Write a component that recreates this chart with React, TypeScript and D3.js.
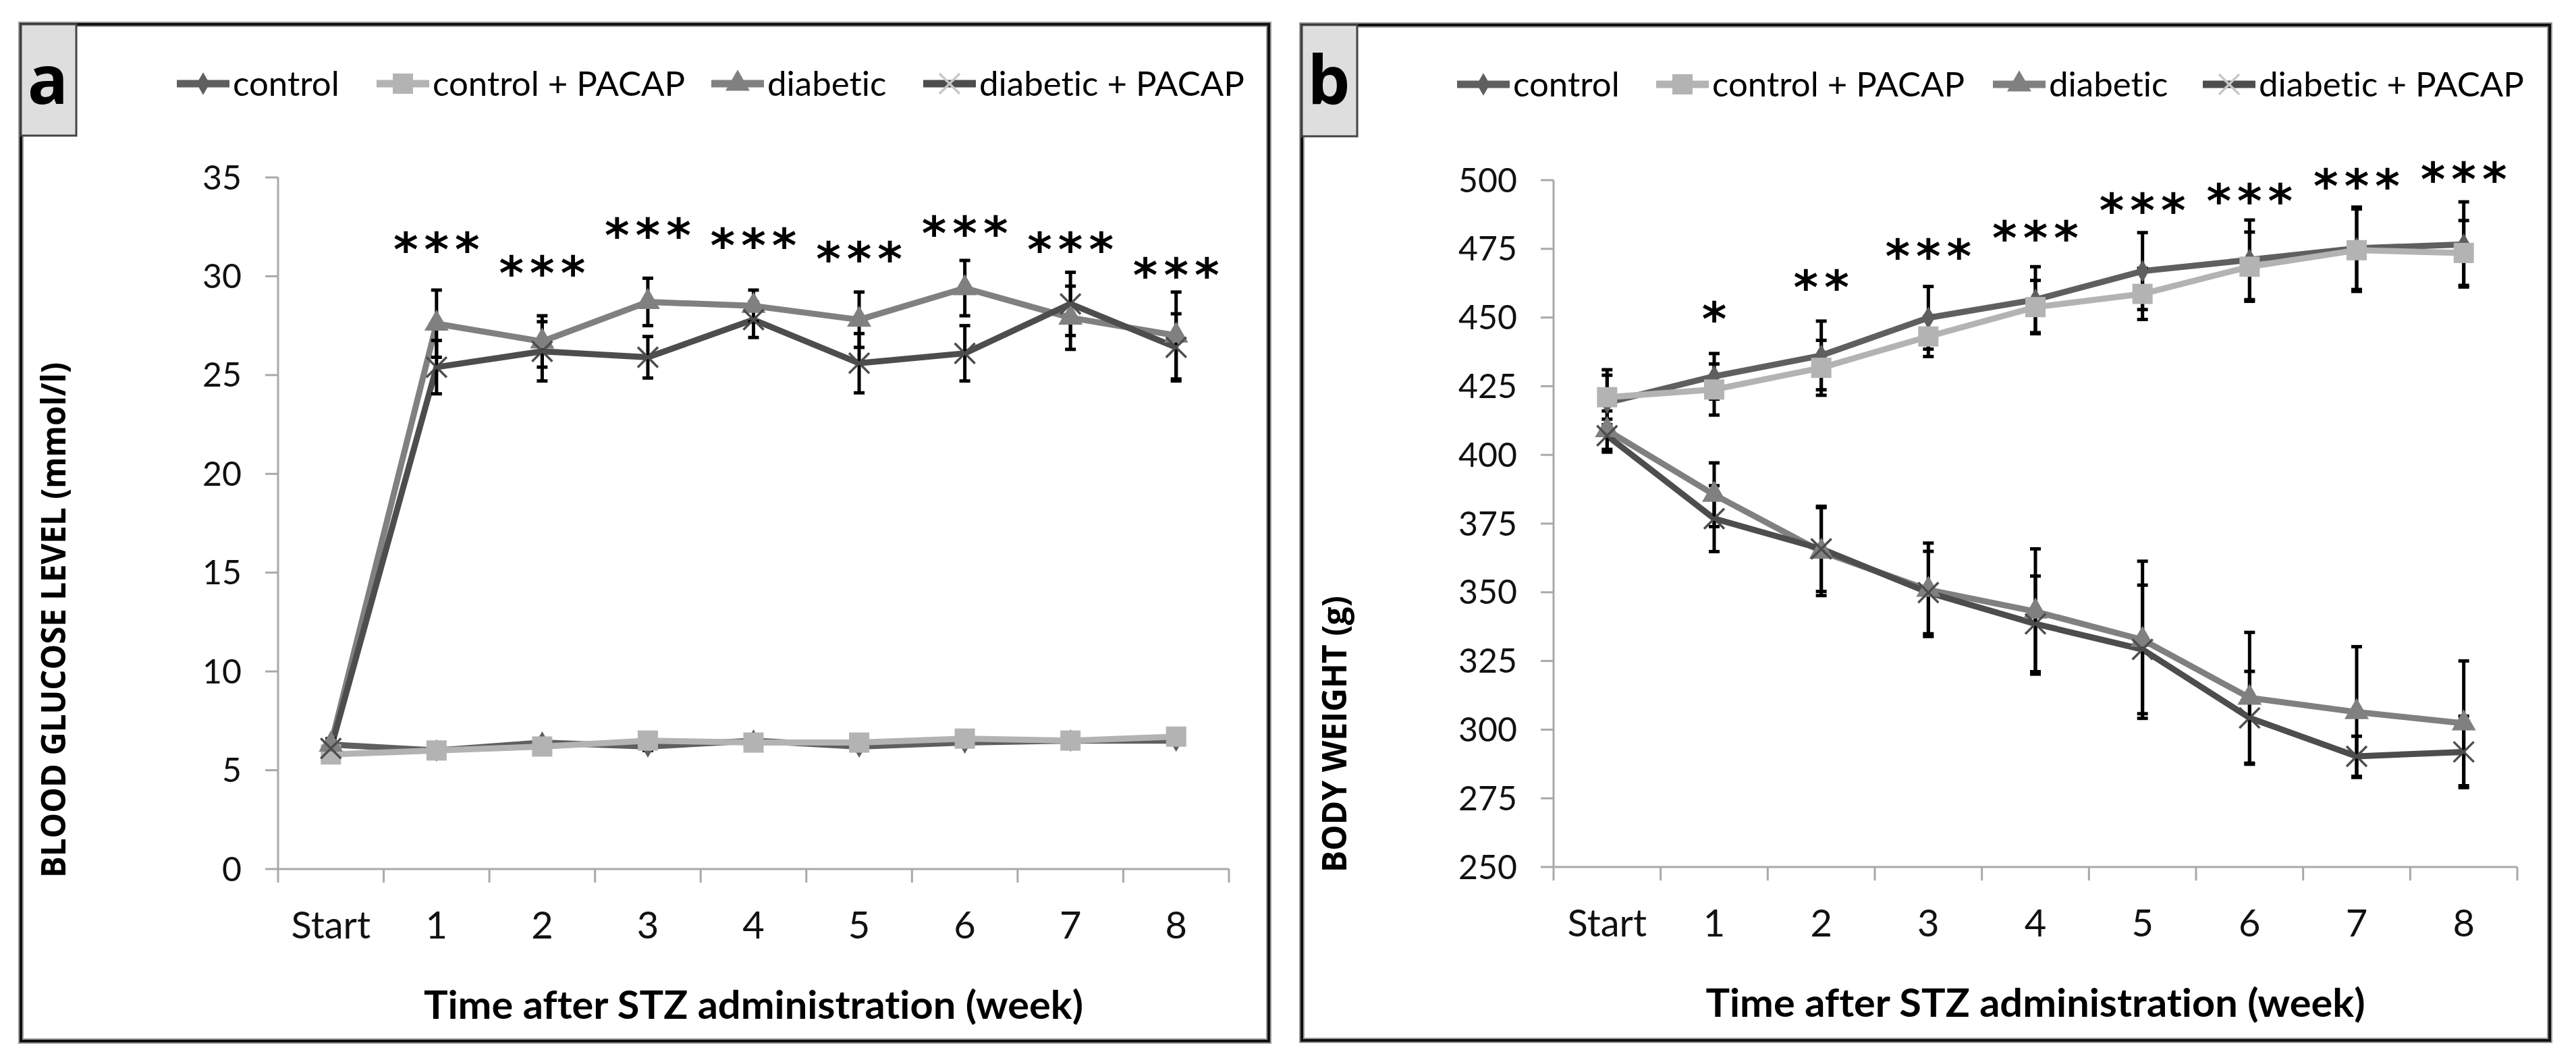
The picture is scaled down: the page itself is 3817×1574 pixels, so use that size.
import * as d3 from 'd3';

const weeks = ['Start', '1', '2', '3', '4', '5', '6', '7', '8'];
const groups = ['control', 'control + PACAP', 'diabetic', 'diabetic + PACAP'];

// a: blood glucose level (mmol/l), means and error bars
const glucoseControl = [6.3, 6.0, 6.4, 6.2, 6.5, 6.2, 6.4, 6.5, 6.5];
const glucoseControlPacap = [5.8, 6.0, 6.2, 6.5, 6.4, 6.4, 6.6, 6.5, 6.7];
const glucoseDiabetic = [6.3, 27.6, 26.7, 28.7, 28.5, 27.8, 29.4, 27.9, 27.0];
const glucoseDiabeticPacap = [6.1, 25.4, 26.2, 25.9, 27.8, 25.6, 26.1, 28.6, 26.4];
const glucoseControlErr = [0.2, 0.2, 0.2, 0.2, 0.2, 0.2, 0.2, 0.2, 0.2];
const glucoseControlPacapErr = [0.2, 0.2, 0.2, 0.2, 0.2, 0.2, 0.2, 0.2, 0.2];
const glucoseDiabeticErr = [0.3, 1.7, 1.3, 1.2, 0.8, 1.4, 1.4, 1.6, 2.2];
const glucoseDiabeticPacapErr = [0.3, 1.35, 1.5, 1.05, 0.9, 1.5, 1.4, 1.6, 1.7];
const glucoseStars = ['', '***', '***', '***', '***', '***', '***', '***', '***'];
const glucoseStarLevel = [0, 31.9, 30.7, 32.6, 32.1, 31.4, 32.7, 31.9, 30.6];
const glucoseTicks = [0, 5, 10, 15, 20, 25, 30, 35];

// b: body weight (g)
const weightControl = [419, 428.6, 436.2, 449.9, 456.5, 466.9, 471.0, 475.2, 476.6];
const weightControlPacap = [421, 423.8, 431.7, 443.1, 453.8, 458.6, 468.5, 474.5, 473.5];
const weightDiabetic = [409, 385.5, 364.8, 350.9, 343.0, 332.7, 311.6, 306.4, 302.3];
const weightDiabeticPacap = [407, 376.8, 365.8, 349.9, 338.5, 329.2, 304.3, 290.3, 291.9];
const weightControlErr = [10, 8.3, 12.5, 11.4, 12, 14, 14.5, 15, 15.5];
const weightControlPacapErr = [10, 9.3, 10, 7.3, 9.7, 9.3, 12.6, 15, 11.8];
const weightDiabeticErr = [7, 11.6, 16, 17, 22.8, 28.6, 23.8, 23.8, 22.7];
const weightDiabeticPacapErr = [6, 12, 15.5, 15, 17.4, 23.4, 16.9, 7.3, 13];
const weightStars = ['', '*', '**', '***', '***', '***', '***', '***', '***'];
const weightStarLevel = [0, 453.4, 464.8, 476.2, 482.8, 492.8, 496.3, 501.7, 504.2];
const weightTicks = [250, 275, 300, 325, 350, 375, 400, 425, 450, 475, 500];

const groupColors = ['#5f5f5f', '#b3b3b3', '#808080', '#4d4d4d'];
const groupMarkers = ['diamond', 'square', 'triangle', 'x'];

const FONT = 'Lato, "Open Sans", sans-serif';

function Marker({ x, y, type, color }: { x: number; y: number; type: string; color: string }) {
  if (type === 'x') {
    const r = 15;
    return (
      <g stroke={color} strokeWidth={3.5}>
        <line x1={x - r} y1={y - r} x2={x + r} y2={y + r} />
        <line x1={x - r} y1={y + r} x2={x + r} y2={y - r} />
      </g>
    );
  }
  const sym = type === 'diamond' ? d3.symbolDiamond : type === 'square' ? d3.symbolSquare : d3.symbolTriangle;
  const size = type === 'diamond' ? 320 : type === 'square' ? 900 : 560;
  return <path d={d3.symbol(sym, size)() || ''} transform={`translate(${x},${y})`} fill={color} />;
}

interface PanelProps {
  label: string;
  frame: { x0: number; y0: number; x1: number; y1: number };
  plot: { left: number; right: number; top: number; bottom: number };
  domain: [number, number];
  ticks: number[];
  values: number[][];
  errors: number[][];
  stars: string[];
  starLevel: number[];
  yTitle: string;
  yTitlePos: [number, number];
  yTitleLen: number;
  legendX: number[];
}

function Panel(p: PanelProps) {
  const x = d3.scaleBand<string>().domain(weeks).range([p.plot.left, p.plot.right]).padding(0);
  const y = d3.scaleLinear().domain(p.domain).range([p.plot.bottom, p.plot.top]);
  const cx = (w: string) => (x(w) as number) + x.bandwidth() / 2;
  const line = d3.line<number>().x((_, i) => cx(weeks[i])).y(d => y(d));
  const boundaries = weeks.map(w => x(w) as number).concat([p.plot.right]);
  const legendY = p.frame.y0 + 88;
  const axisColor = '#a9a9a9';
  const starSpacing = 9;

  return (
    <g>
      {/* frame */}
      <rect x={p.frame.x0} y={p.frame.y0} width={p.frame.x1 - p.frame.x0} height={p.frame.y1 - p.frame.y0}
        fill="#fff" stroke="#9a9a9a" strokeWidth={8} />
      <rect x={p.frame.x0} y={p.frame.y0} width={p.frame.x1 - p.frame.x0} height={p.frame.y1 - p.frame.y0}
        fill="none" stroke="#111" strokeWidth={4} />
      <rect x={p.frame.x0} y={p.frame.y0} width={82} height={165} fill="#dedede" stroke="#444" strokeWidth={3} />
      <text x={p.frame.x0 + 40} y={p.frame.y0 + 118} textAnchor="middle" fontFamily='"Open Sans", sans-serif'
        fontWeight="bold" fontSize={100} fill="#000">{p.label}</text>

      {/* legend */}
      {groups.map((g, i) => (
        <g key={g}>
          <line x1={p.legendX[i]} x2={p.legendX[i] + 78} y1={legendY} y2={legendY}
            stroke={groupColors[i]} strokeWidth={11} />
          <Marker x={p.legendX[i] + 39} y={legendY} type={groupMarkers[i]}
            color={groupMarkers[i] === 'x' ? '#c8c8c8' : groupColors[i]} />
          <text x={p.legendX[i] + 83} y={legendY + 18} fontFamily={FONT} fontSize={51} fill="#000">{g}</text>
        </g>
      ))}

      {/* axes */}
      <line x1={p.plot.left} x2={p.plot.left} y1={p.plot.top} y2={p.plot.bottom} stroke={axisColor} strokeWidth={3} />
      {p.ticks.map(t => (
        <g key={t}>
          <line x1={p.plot.left - 19} x2={p.plot.left} y1={y(t)} y2={y(t)} stroke={axisColor} strokeWidth={3} />
          <text x={p.plot.left - 54} y={y(t)} dy="0.35em" textAnchor="end" fontFamily={FONT} fontSize={50} fill="#111">{t}</text>
        </g>
      ))}
      <line x1={p.plot.left} x2={p.plot.right} y1={p.plot.bottom} y2={p.plot.bottom} stroke={axisColor} strokeWidth={3} />
      {boundaries.map((b, i) => (
        <line key={i} x1={b} x2={b} y1={p.plot.bottom} y2={p.plot.bottom + 20} stroke={axisColor} strokeWidth={3} />
      ))}
      {weeks.map(w => (
        <text key={w} x={cx(w)} y={p.plot.bottom + 103} textAnchor="middle" fontFamily={FONT} fontSize={56} fill="#111">{w}</text>
      ))}
      <text x={(p.plot.left + p.plot.right) / 2} y={p.plot.bottom + 222} textAnchor="middle" fontFamily={FONT}
        fontWeight="bold" fontSize={58} fill="#000" textLength={977} lengthAdjust="spacingAndGlyphs">
        Time after STZ administration (week)
      </text>
      <text transform={`translate(${p.yTitlePos[0]},${p.yTitlePos[1]}) rotate(-90)`} textAnchor="middle"
        fontFamily='"Open Sans", sans-serif' fontWeight="bold" fontSize={50} fill="#000" textLength={p.yTitleLen}
        lengthAdjust="spacingAndGlyphs">{p.yTitle}</text>

      {/* series lines */}
      {p.values.map((vals, i) => (
        <path key={i} d={line(vals) || ''} fill="none" stroke={groupColors[i]} strokeWidth={9} strokeLinejoin="round" />
      ))}
      {/* error bars */}
      {p.values.map((vals, i) => (
        <g key={i} stroke="#000" strokeWidth={5}>
          {vals.map((v, j) => {
            const e = p.errors[i][j];
            const xx = cx(weeks[j]);
            return (
              <g key={j}>
                <line x1={xx} x2={xx} y1={y(v - e)} y2={y(v + e)} />
                <line x1={xx - 8} x2={xx + 8} y1={y(v - e)} y2={y(v - e)} />
                <line x1={xx - 8} x2={xx + 8} y1={y(v + e)} y2={y(v + e)} />
              </g>
            );
          })}
        </g>
      ))}
      {/* markers */}
      {p.values.map((vals, i) => (
        <g key={i}>
          {vals.map((v, j) => (
            <Marker key={j} x={cx(weeks[j])} y={y(v)} type={groupMarkers[i]} color={groupColors[i]} />
          ))}
        </g>
      ))}
      {/* significance */}
      {p.stars.map((s, j) => s ? (
        <text key={j} x={cx(weeks[j]) + starSpacing / 2} y={y(p.starLevel[j]) + 40} textAnchor="middle"
          letterSpacing={starSpacing} fontFamily='"DejaVu Sans", sans-serif' fontWeight="bold" fontSize={70}
          fill="#000">{s}</text>
      ) : null)}
    </g>
  );
}

export default function App() {
  return (
    <svg width={3817} height={1574} viewBox="0 0 3817 1574"
      style={{ position: 'absolute', left: 0, top: 0, background: '#fff', fontVariantLigatures: 'none' }}>
      <rect width={3817} height={1574} fill="#fff" />
      <Panel
        label="a"
        frame={{ x0: 31, y0: 36, x1: 1880, y1: 1543 }}
        plot={{ left: 412, right: 1821, top: 263, bottom: 1288 }}
        domain={[0, 35]}
        ticks={glucoseTicks}
        values={[glucoseControl, glucoseControlPacap, glucoseDiabetic, glucoseDiabeticPacap]}
        errors={[glucoseControlErr, glucoseControlPacapErr, glucoseDiabeticErr, glucoseDiabeticPacapErr]}
        stars={glucoseStars}
        starLevel={glucoseStarLevel}
        yTitle="BLOOD GLUCOSE LEVEL (mmol/l)"
        yTitlePos={[97, 919]}
        yTitleLen={764}
        legendX={[262, 558, 1054, 1368]}
      />
      <Panel
        label="b"
        frame={{ x0: 1929, y0: 37, x1: 3778, y1: 1542 }}
        plot={{ left: 2302, right: 3730, top: 267, bottom: 1285 }}
        domain={[250, 500]}
        ticks={weightTicks}
        values={[weightControl, weightControlPacap, weightDiabetic, weightDiabeticPacap]}
        errors={[weightControlErr, weightControlPacapErr, weightDiabeticErr, weightDiabeticPacapErr]}
        stars={weightStars}
        starLevel={weightStarLevel}
        yTitle="BODY WEIGHT (g)"
        yTitlePos={[1995, 1088]}
        yTitleLen={410}
        legendX={[2159, 2454, 2953, 3264]}
      />
    </svg>
  );
}
